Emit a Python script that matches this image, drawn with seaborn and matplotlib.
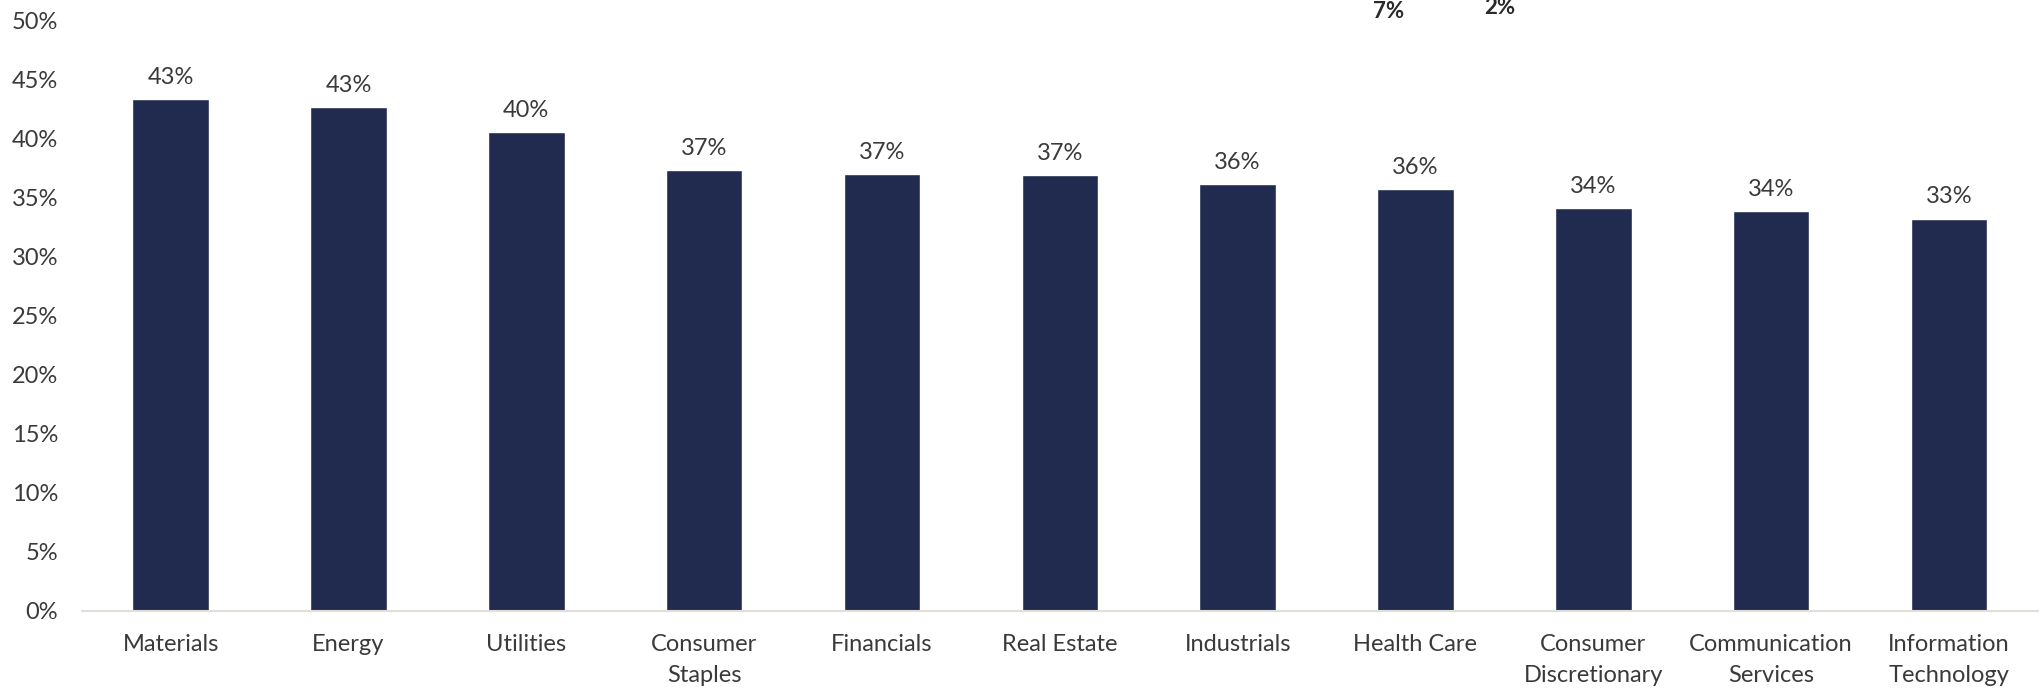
import numpy as np
import pandas as pd
import seaborn as sns
import matplotlib.pyplot as plt

sectors = ['Materials', 'Energy', 'Utilities', 'Consumer\nStaples', 'Financials',
           'Real Estate', 'Industrials', 'Health Care', 'Consumer\nDiscretionary',
           'Communication\nServices', 'Information\nTechnology']
share = [43.3, 42.6, 40.5, 37.3, 37.0, 36.9, 36.1, 35.7, 34.1, 33.8, 33.2]
value_labels = ['43%', '43%', '40%', '37%', '37%', '37%', '36%', '36%', '34%', '34%', '33%']
yticks = [0, 5, 10, 15, 20, 25, 30, 35, 40, 45, 50]
# clipped fragments visible along the top edge
top_fragments = ['7%', '2%']

df = pd.DataFrame({'sector': sectors, 'share': share})

sns.set_style('white')
plt.rcParams['font.family'] = ['Lato', 'DejaVu Sans']

fig = plt.figure(figsize=(20.44, 6.91), dpi=100)
ax = fig.add_axes([0.040, 0.116, 0.957, 0.855])

sns.barplot(data=df, x='sector', y='share', color='#212b50', width=0.43,
            saturation=1, ax=ax)

for i, (v, lab) in enumerate(zip(share, value_labels)):
    ax.annotate(lab, xy=(i, v), xytext=(0, 8), textcoords='offset points',
                ha='center', va='bottom', fontsize=17, color='#3a3a3a')

ax.set_xlim(-0.5, 10.5)
ax.set_ylim(0, 50)
ax.set_yticks(yticks)
ax.set_yticklabels([f'{t}%' for t in yticks])
ax.set_xlabel('')
ax.set_ylabel('')
ax.tick_params(axis='y', length=0, pad=17, labelsize=17, labelcolor='#3a3a3a')
ax.tick_params(axis='x', length=0, pad=17, labelsize=17, labelcolor='#3a3a3a')
for t in ax.get_xticklabels():
    t.set_linespacing(1.55)

sns.despine(ax=ax, left=True)
ax.spines['bottom'].set_color('#e2dfda')
ax.spines['bottom'].set_linewidth(1.5)

fig.text(1389 / 2044, 1 - 11 / 691, top_fragments[0], ha='center', va='center',
         fontsize=16, fontweight='bold', color='#2a2a2a')
fig.text(1500 / 2044, 1 - 8 / 691, top_fragments[1], ha='center', va='center',
         fontsize=16, fontweight='bold', color='#2a2a2a')

fig.savefig('out.png', dpi=100)
